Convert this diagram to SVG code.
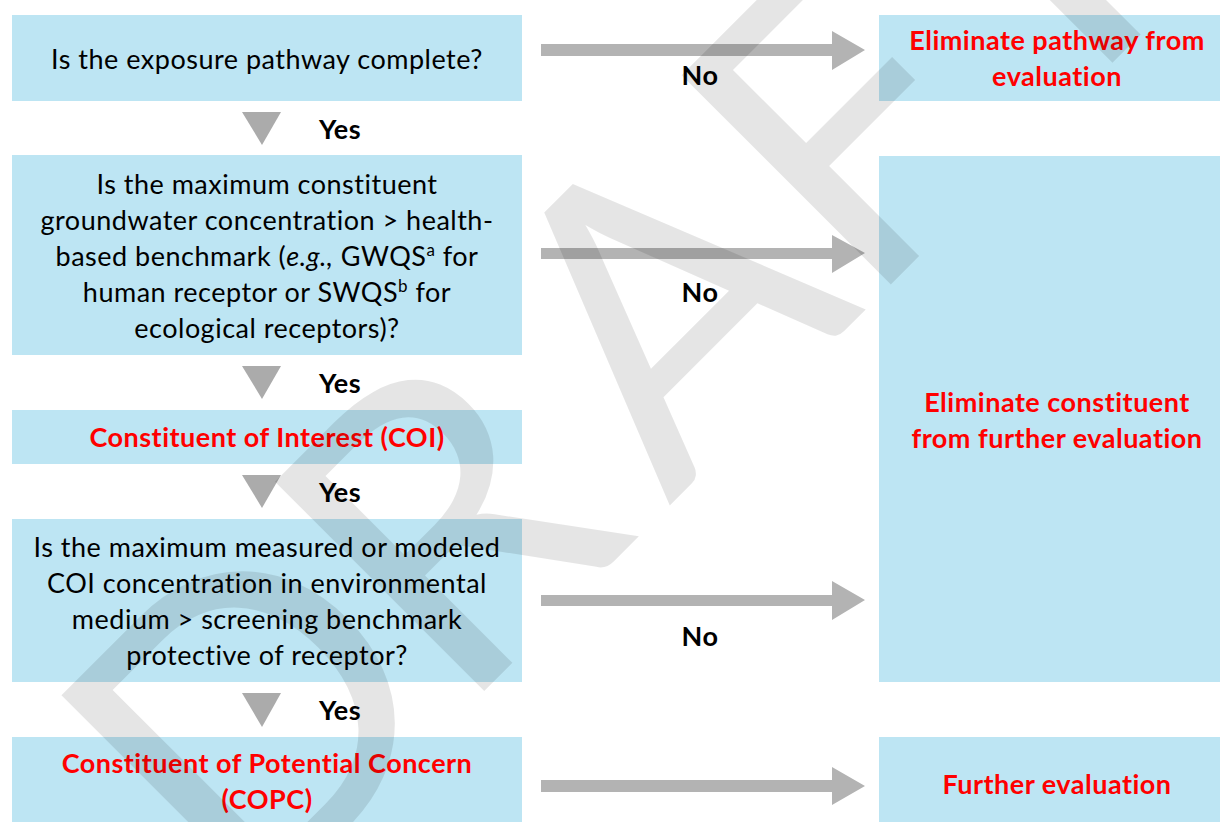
<svg xmlns="http://www.w3.org/2000/svg" width="1220" height="822" viewBox="0 0 1220 822">
<defs>
<style>
.box{fill:#bde5f3}
.t{font-family:Lato,"Liberation Sans",sans-serif;font-size:27px;letter-spacing:0.5px;fill:#000;text-anchor:middle}
.r{font-family:Lato,"Liberation Sans",sans-serif;font-size:27px;letter-spacing:0.5px;font-weight:bold;fill:#ff0000;text-anchor:middle}
.lab{font-family:Lato,"Liberation Sans",sans-serif;font-size:27px;letter-spacing:0.5px;font-weight:bold;fill:#000;text-anchor:middle}
.arr{fill:#b3b3b3}
.tri{fill:#ababab}
.wm{font-family:Lato,"Liberation Sans",sans-serif;font-size:413px;fill:#000;fill-opacity:0.1}
</style>
</defs>
<rect width="1220" height="822" fill="#ffffff"/>

<g id="node-pathway">
<rect class="box" x="12" y="15" width="510" height="86"/>
<text class="t" x="267" y="69">Is the exposure pathway complete?</text>
</g>
<g id="node-eliminate-pathway">
<rect class="box" x="879" y="15" width="341" height="86"/>
<text class="r" x="1057" y="50">Eliminate pathway from</text>
<text class="r" x="1057" y="86">evaluation</text>
</g>
<g id="node-max-gw">
<rect class="box" x="12" y="155" width="510" height="200"/>
<text class="t" x="267" y="194">Is the maximum constituent</text>
<text class="t" x="267" y="230">groundwater concentration &gt; health-</text>
<text class="t" x="267" y="266">based benchmark (<tspan font-style="italic">e.g.,</tspan> GWQS<tspan font-size="17" dy="-10">a</tspan><tspan dy="10"> for</tspan></text>
<text class="t" x="267" y="302">human receptor or SWQS<tspan font-size="17" dy="-10">b</tspan><tspan dy="10"> for</tspan></text>
<text class="t" x="267" y="338">ecological receptors)?</text>
</g>
<g id="node-eliminate-constituent">
<rect class="box" x="879" y="156" width="341" height="526"/>
<text class="r" x="1057" y="412">Eliminate constituent</text>
<text class="r" x="1057" y="448">from further evaluation</text>
</g>
<g id="node-coi">
<rect class="box" x="12" y="410" width="510" height="54"/>
<text class="r" x="267" y="447">Constituent of Interest (COI)</text>
</g>
<g id="node-max-coi">
<rect class="box" x="12" y="519" width="510" height="163"/>
<text class="t" x="267" y="557">Is the maximum measured or modeled</text>
<text class="t" x="267" y="593">COI concentration in environmental</text>
<text class="t" x="267" y="629">medium &gt; screening benchmark</text>
<text class="t" x="267" y="665">protective of receptor?</text>
</g>
<g id="node-copc">
<rect class="box" x="12" y="737" width="510" height="85"/>
<text class="r" x="267" y="773">Constituent of Potential Concern</text>
<text class="r" x="267" y="809">(COPC)</text>
</g>
<g id="node-further">
<rect class="box" x="879" y="737" width="341" height="85"/>
<text class="r" x="1057" y="794">Further evaluation</text>
</g>

<g id="connectors">
<polygon class="arr" points="541,44 832,44 832,31 865,50 832,70 832,56 541,56"/>
<polygon class="arr" points="541,248 832,248 832,235 865,253 832,273 832,259 541,259"/>
<polygon class="arr" points="541,595 832,595 832,581 865,600 832,620 832,606 541,606"/>
<polygon class="arr" points="541,780 832,780 832,767 865,786 832,805 832,792 541,792"/>
<polygon class="tri" points="242,112 281,112 262,145"/>
<polygon class="tri" points="242,366 281,366 262,399"/>
<polygon class="tri" points="242,475 281,475 262,508"/>
<polygon class="tri" points="242,693 281,693 262,727"/>
<text class="lab" x="700" y="85">No</text>
<text class="lab" x="700" y="302">No</text>
<text class="lab" x="700" y="646">No</text>
<text class="lab" x="340" y="139">Yes</text>
<text class="lab" x="340" y="393">Yes</text>
<text class="lab" x="340" y="502">Yes</text>
<text class="lab" x="340" y="720">Yes</text>
</g>

<text class="wm" transform="rotate(-45)" x="-486 -184 115 391 640" y="831">DRAFT</text>
</svg>
